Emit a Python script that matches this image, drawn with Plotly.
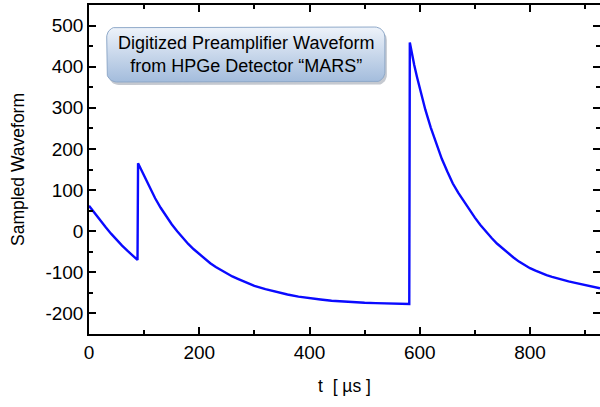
import math
import plotly.graph_objects as go

# ---- data ----
t_us = [0, 10, 20, 30, 40, 50, 60, 70, 80, 88,
        89, 95, 100, 110, 120, 130, 140, 150, 160, 170, 180, 190, 200, 210, 220, 230,
        240, 250, 260, 270, 280, 290, 300, 320, 340, 360, 380, 400, 420, 440, 460,
        480, 500, 520, 540, 560, 581,
        582, 586, 590, 595, 600, 610, 620, 630, 640, 650, 660, 670, 680, 690, 700, 710, 720,
        730, 740, 750, 760, 770, 780, 790, 800, 810, 820, 830, 840, 850, 860, 870,
        880, 890, 900, 910, 920, 927]
waveform = [62, 44, 27, 10, -6, -21, -35, -48, -60, -70,
            165, 148, 133, 105, 80, 57, 36, 17, 0, -16, -31, -44, -56, -67, -78, -87,
            -95, -103, -110, -116, -122, -128, -133, -141, -148, -154, -159, -163, -166, -169, -171,
            -173, -174, -175, -176, -176, -177,
            459, 430, 404, 375, 347, 296, 252, 212, 176, 145, 116, 93, 72, 52, 33, 15, -1,
            -16, -30, -42, -53, -64, -74, -83, -90, -96, -102, -107, -111, -115, -119, -122,
            -125, -128, -131, -134, -137, -139]

x_ticks = [0, 200, 400, 600, 800]
y_ticks = [-200, -100, 0, 100, 200, 300, 400, 500]

title_lines = ["Digitized Preamplifier Waveform", "from HPGe Detector \u201cMARS\u201d"]

FONT = "Liberation Sans, Arial, sans-serif"

fig = go.Figure()

# ---- rounded gradient box (decoration) on an overlay axis pair in [0,1] ----
W_PX, H_PX = 511.0, 329.0
bx0, bx1 = 0.0347, 0.579
by0, by1 = 0.766, 0.933
rad = 10.0
rx, ry = rad / W_PX, rad / H_PX

def rounded(x0, x1, y0, y1):
    xs, ys = [], []
    corners = [(x1 - rx, y1 - ry, 0), (x0 + rx, y1 - ry, 90), (x0 + rx, y0 + ry, 180), (x1 - rx, y0 + ry, 270)]
    for cx, cy, a0 in corners:
        for k in range(0, 10):
            a = math.radians(a0 + 90 * k / 9)
            xs.append(cx + rx * math.cos(a))
            ys.append(cy + ry * math.sin(a))
    xs.append(xs[0]); ys.append(ys[0])
    return xs, ys

sx, sy = rounded(bx0 + 2 / W_PX, bx1 + 2 / W_PX, by0 - 3 / H_PX, by1 - 3 / H_PX)
fig.add_trace(go.Scatter(x=sx, y=sy, xaxis="x2", yaxis="y2", mode="lines",
                         line=dict(width=0, color="rgba(0,0,0,0)"), fill="toself",
                         fillcolor="rgba(90,100,120,0.35)", hoverinfo="skip", showlegend=False))
gx, gy = rounded(bx0, bx1, by0, by1)
fig.add_trace(go.Scatter(x=gx, y=gy, xaxis="x2", yaxis="y2", mode="lines",
                         line=dict(width=1, color="#8fa9c9"), fill="toself",
                         fillgradient=dict(type="vertical",
                                           colorscale=[[0, "#a3bcdc"], [1, "#eef3fa"]]),
                         hoverinfo="skip", showlegend=False))

# ---- waveform ----
fig.add_trace(go.Scatter(x=t_us, y=waveform, mode="lines",
                         line=dict(color="#0a0aff", width=2.4, shape="linear"),
                         showlegend=False))

fig.add_annotation(text="<br>".join(title_lines), xref="paper", yref="paper",
                   x=(bx0 + bx1) / 2, y=(by0 + by1) / 2, xanchor="center", yanchor="middle",
                   showarrow=False,
                   font=dict(family=FONT, size=18, color="black"), align="center")

axis_common = dict(showline=True, linecolor="black", linewidth=1.5, mirror="allticks",
                   ticks="inside", ticklen=7, tickwidth=1.5, tickcolor="black",
                   showgrid=False, zeroline=False, automargin=False,
                   tickfont=dict(family=FONT, size=19, color="black"))

fig.update_layout(
    width=600, height=407,
    margin=dict(l=89, r=0, t=5, b=73),
    plot_bgcolor="white", paper_bgcolor="white",
    xaxis=dict(range=[0, 927], tickvals=x_ticks, ticktext=[str(v) for v in x_ticks],
               minor=dict(dtick=100, tick0=0, ticks="inside", ticklen=4, tickcolor="black", tickwidth=1.5),
               title=dict(text="t  [ \u00b5s ]", font=dict(family=FONT, size=17.5, color="black"), standoff=18),
               **axis_common),
    yaxis=dict(range=[-250, 550], tickvals=y_ticks, ticktext=[str(v) for v in y_ticks],
               minor=dict(dtick=50, tick0=0, ticks="inside", ticklen=4, tickcolor="black", tickwidth=1.5),
               title=dict(text="Sampled Waveform", font=dict(family=FONT, size=17.5, color="black"), standoff=16),
               **axis_common),
    xaxis2=dict(range=[0, 1], overlaying="x", visible=False, fixedrange=True),
    yaxis2=dict(range=[0, 1], overlaying="y", visible=False, fixedrange=True),
)

fig.write_html("out.html", config={"displayModeBar": False},
               post_script="document.body.style.margin='0';document.body.style.overflow='hidden';")
